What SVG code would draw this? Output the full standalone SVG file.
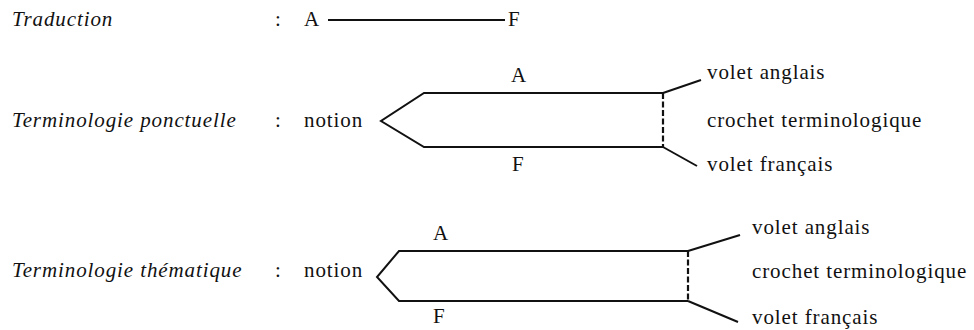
<svg xmlns="http://www.w3.org/2000/svg" width="974" height="330" viewBox="0 0 974 330" font-family="Liberation Serif, Times New Roman, DejaVu Serif, serif">
<style>
.t{font-family:"Liberation Serif","Times New Roman",Times,"DejaVu Serif",serif;font-size:21px;fill:#111;letter-spacing:0.9px}
.it{font-style:italic}
.ln{stroke:#111;stroke-width:2;fill:none;stroke-linejoin:miter}
.dash{stroke:#111;stroke-width:2.2;fill:none;stroke-dasharray:6 2.5}
</style>
<rect width="974" height="330" fill="#fff"/>
<g id="row-traduction">
<text class="t it" x="12" y="26">Traduction</text>
<text class="t" x="275" y="26">:</text>
<text class="t" x="304" y="26">A</text>
<text class="t" x="508" y="26">F</text>
</g>
<g id="row-ponctuelle">
<text class="t it" x="12" y="127">Terminologie ponctuelle</text>
<text class="t" x="275" y="127">:</text>
<text class="t" x="304" y="127">notion</text>
<text class="t" x="511" y="82">A</text>
<text class="t" x="512" y="171">F</text>
<text class="t" x="707" y="79">volet anglais</text>
<text class="t" x="707" y="127">crochet terminologique</text>
<text class="t" x="707" y="171">volet français</text>
</g>
<g id="row-thematique">
<text class="t it" x="12" y="277">Terminologie thématique</text>
<text class="t" x="275" y="277">:</text>
<text class="t" x="304" y="277">notion</text>
<text class="t" x="433" y="240">A</text>
<text class="t" x="433" y="323">F</text>
<text class="t" x="752" y="234">volet anglais</text>
<text class="t" x="752" y="278">crochet terminologique</text>
<text class="t" x="752" y="324">volet français</text>
</g>
<g id="connectors">
<line class="ln" x1="328" y1="20" x2="505" y2="20"/>
<polyline class="ln" points="663,93 424,93 381,121 424,147 663,147"/>
<line class="dash" x1="663" y1="93" x2="663" y2="147"/>
<line class="ln" x1="663" y1="93" x2="701" y2="80"/>
<line class="ln" x1="663" y1="147" x2="697" y2="166"/>
<polyline class="ln" points="688,251 399,251 377,277 399,301 688,301"/>
<line class="dash" x1="688" y1="251" x2="688" y2="301"/>
<line class="ln" x1="688" y1="251" x2="740" y2="235"/>
<line class="ln" x1="688" y1="301" x2="738" y2="322"/>
</g>
</svg>
